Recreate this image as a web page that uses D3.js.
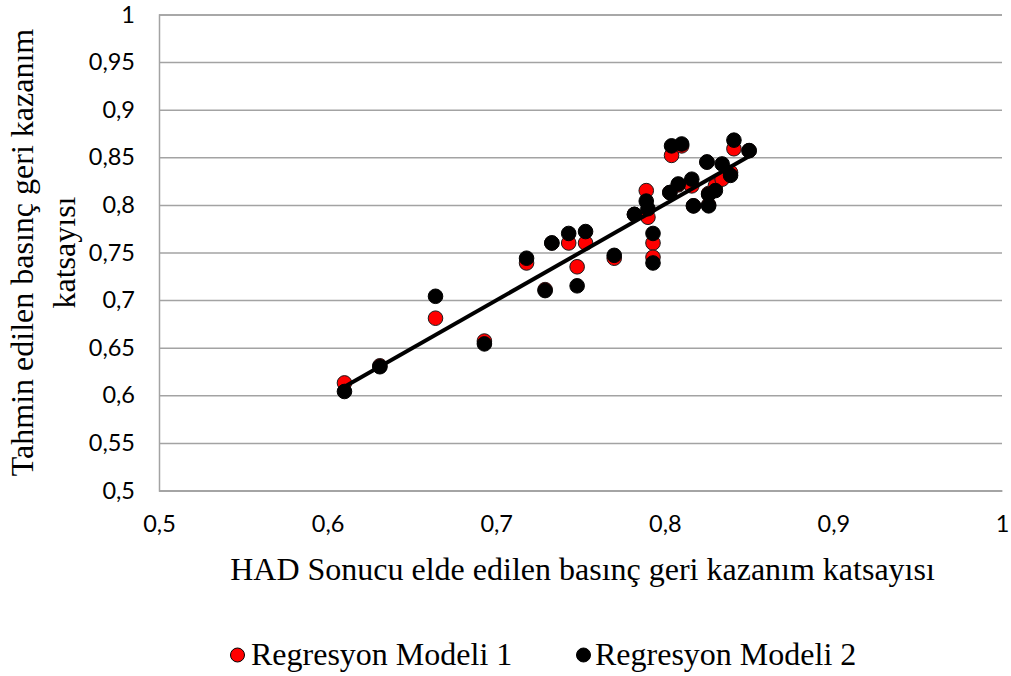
<!DOCTYPE html>
<html>
<head>
<meta charset="utf-8">
<script src="https://cdn.jsdelivr.net/npm/d3@7"></script>
<style>
  html, body { margin: 0; padding: 0; background: #fff; }
  svg { display: block; }
</style>
</head>
<body>
<svg id="chart" width="1011" height="676"></svg>
<script>
// HAD (CFD) pressure recovery coefficient for each case
const hadX = [0.610, 0.631, 0.664, 0.693, 0.718, 0.729, 0.733, 0.743, 0.753, 0.748,
              0.770, 0.782, 0.789, 0.790, 0.793, 0.793, 0.803, 0.804, 0.810, 0.808,
              0.816, 0.817, 0.825, 0.826, 0.826, 0.830, 0.834, 0.839, 0.841, 0.850];
// Predicted coefficient, regression model 1
const model1 = [0.613, 0.631, 0.681, 0.657, 0.739, 0.711, 0.760, 0.760, 0.760, 0.735,
                0.744, 0.790, 0.815, 0.787, 0.760, 0.745, 0.813, 0.852, 0.862, 0.821,
                0.820, 0.799, 0.845, 0.812, 0.800, 0.820, 0.827, 0.834, 0.859, 0.857];
// Predicted coefficient, regression model 2
const model2 = [0.604, 0.630, 0.704, 0.654, 0.744, 0.710, 0.760, 0.770, 0.772, 0.715,
                0.747, 0.790, 0.804, 0.796, 0.770, 0.739, 0.813, 0.862, 0.864, 0.822,
                0.827, 0.799, 0.845, 0.811, 0.799, 0.815, 0.843, 0.831, 0.868, 0.857];
// Linear trend line end points
const trendX = [0.610, 0.850];
const trendY = [0.609, 0.851];

const xTicks = [0.5, 0.6, 0.7, 0.8, 0.9, 1];
const yTicks = [0.5, 0.55, 0.6, 0.65, 0.7, 0.75, 0.8, 0.85, 0.9, 0.95, 1];

const seriesNames = ["Regresyon Modeli 1", "Regresyon Modeli 2"];
const xTitle = "HAD Sonucu elde edilen basınç geri kazanım katsayısı";
const yTitle = ["Tahmin edilen basınç geri kazanım", "katsayısı"];

const svg = d3.select("#chart");
const plot = { left: 159, right: 1002, top: 14.5, bottom: 490.5 };

const x = d3.scaleLinear().domain([0.5, 1]).range([plot.left, plot.right]);
const y = d3.scaleLinear().domain([0.5, 1]).range([plot.bottom, plot.top]);

const fmt = v => String(+v.toFixed(2)).replace(".", ",");
const gridColor = "#a3a3a3";
const serif = "'Liberation Serif', 'Times New Roman', serif";
const sans = "Lato, 'Open Sans', sans-serif";
const tickSize = 23.5;
const titleSize = 32;

// Horizontal gridlines + y tick labels
const yAxis = d3.axisLeft(y).tickValues(yTicks).tickFormat(fmt)
  .tickSize(-(plot.right - plot.left)).tickPadding(24);
const gy = svg.append("g").attr("transform", `translate(${plot.left},0)`).call(yAxis);
gy.select(".domain").attr("stroke", gridColor).attr("stroke-width", 1.5);
gy.selectAll(".tick line").attr("stroke", gridColor).attr("stroke-width", 1.5);
gy.selectAll(".tick text").attr("font-family", sans).attr("font-size", tickSize).attr("fill", "#000");

// X tick labels along the bottom
const xAxis = d3.axisBottom(x).tickValues(xTicks).tickFormat(fmt).tickSize(0).tickPadding(25);
const gx = svg.append("g").attr("transform", `translate(0,${plot.bottom})`).call(xAxis);
gx.select(".domain").attr("stroke", gridColor).attr("stroke-width", 1.5);
gx.selectAll(".tick text").attr("font-family", sans).attr("font-size", tickSize).attr("fill", "#000");

// Axis titles
svg.append("text")
  .attr("x", (plot.left + plot.right) / 2 + 2).attr("y", 580)
  .attr("text-anchor", "middle")
  .attr("font-family", serif).attr("font-size", titleSize)
  .text(xTitle);

const yMid = (plot.top + plot.bottom) / 2;
yTitle.forEach((line, i) => {
  svg.append("text")
    .attr("transform", `translate(${33 + i * 42},${yMid}) rotate(-90)`)
    .attr("text-anchor", "middle")
    .attr("font-family", serif).attr("font-size", titleSize)
    .text(line);
});

// Points: model 1 underneath, model 2 on top
const pts1 = hadX.map((v, i) => [v, model1[i]]);
const pts2 = hadX.map((v, i) => [v, model2[i]]);

svg.append("g").selectAll("circle").data(pts1).join("circle")
  .attr("cx", d => x(d[0])).attr("cy", d => y(d[1])).attr("r", 7.3)
  .attr("fill", "#ff0000").attr("stroke", "#1a1a1a").attr("stroke-width", 1);

svg.append("g").selectAll("circle").data(pts2).join("circle")
  .attr("cx", d => x(d[0])).attr("cy", d => y(d[1])).attr("r", 7.3)
  .attr("fill", "#000").attr("stroke", "#000").attr("stroke-width", 1);

// Trend line
svg.append("path")
  .datum(trendX.map((v, i) => [v, trendY[i]]))
  .attr("d", d3.line().x(d => x(d[0])).y(d => y(d[1])))
  .attr("fill", "none").attr("stroke", "#000").attr("stroke-width", 4);

// Legend
const legend = [
  { name: seriesNames[0], fill: "#ff0000", cx: 237.5, tx: 251 },
  { name: seriesNames[1], fill: "#000", cx: 583.5, tx: 595 }
];
const lg = svg.append("g");
legend.forEach(l => {
  lg.append("circle").attr("cx", l.cx).attr("cy", 655).attr("r", 7)
    .attr("fill", l.fill).attr("stroke", "#000").attr("stroke-width", 1);
  lg.append("text").attr("x", l.tx).attr("y", 665)
    .attr("font-family", serif).attr("font-size", titleSize)
    .text(l.name);
});
</script>
</body>
</html>
